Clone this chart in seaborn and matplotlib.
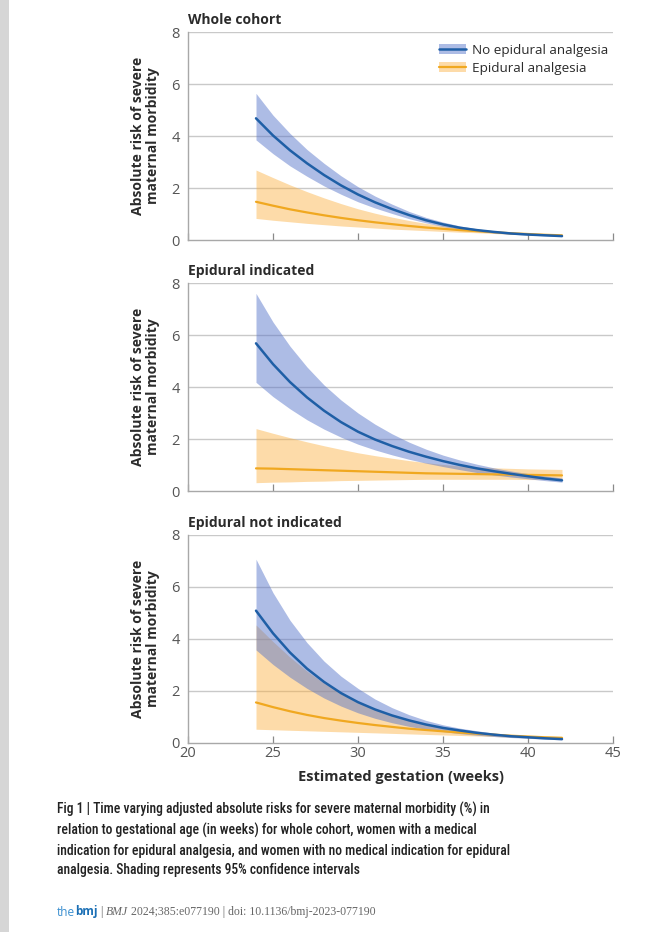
import matplotlib
matplotlib.use("Agg")
import matplotlib.pyplot as plt
import seaborn as sns
from matplotlib.patches import Patch, Rectangle
from matplotlib.lines import Line2D

# gestation weeks on the x axis
weeks = list(range(24, 43))

# Whole cohort
whole_no = [4.68, 4.02, 3.45, 2.95, 2.50, 2.10, 1.75, 1.45, 1.19, 0.96, 0.76, 0.60, 0.47, 0.38, 0.31, 0.25, 0.21, 0.18, 0.15]
whole_no_hi = [5.64, 4.80, 4.10, 3.48, 2.95, 2.47, 2.05, 1.69, 1.38, 1.10, 0.87, 0.69, 0.54, 0.43, 0.35, 0.29, 0.24, 0.20, 0.17]
whole_no_lo = [3.85, 3.32, 2.85, 2.45, 2.08, 1.76, 1.47, 1.23, 1.02, 0.82, 0.66, 0.52, 0.41, 0.33, 0.27, 0.22, 0.19, 0.16, 0.13]
whole_ep = [1.47, 1.32, 1.18, 1.06, 0.95, 0.85, 0.76, 0.68, 0.61, 0.54, 0.48, 0.43, 0.38, 0.34, 0.30, 0.26, 0.23, 0.20, 0.18]
whole_ep_hi = [2.69, 2.40, 2.12, 1.86, 1.62, 1.40, 1.20, 1.03, 0.88, 0.75, 0.64, 0.55, 0.47, 0.40, 0.35, 0.30, 0.26, 0.23, 0.21]
whole_ep_lo = [0.83, 0.76, 0.70, 0.64, 0.59, 0.54, 0.50, 0.46, 0.42, 0.39, 0.36, 0.33, 0.30, 0.28, 0.25, 0.22, 0.20, 0.18, 0.16]

# Epidural indicated
ind_no = [5.68, 4.88, 4.19, 3.60, 3.09, 2.65, 2.28, 1.98, 1.73, 1.51, 1.32, 1.15, 1.00, 0.87, 0.76, 0.66, 0.57, 0.48, 0.41]
ind_no_hi = [7.60, 6.50, 5.57, 4.77, 4.08, 3.50, 3.00, 2.57, 2.20, 1.88, 1.61, 1.38, 1.19, 1.03, 0.89, 0.77, 0.67, 0.58, 0.50]
ind_no_lo = [4.18, 3.63, 3.16, 2.74, 2.38, 2.07, 1.80, 1.58, 1.39, 1.22, 1.07, 0.94, 0.82, 0.71, 0.62, 0.54, 0.47, 0.40, 0.34]
ind_ep = [0.87, 0.86, 0.84, 0.82, 0.80, 0.78, 0.76, 0.74, 0.72, 0.70, 0.68, 0.67, 0.66, 0.65, 0.64, 0.63, 0.62, 0.61, 0.60]
ind_ep_hi = [2.40, 2.22, 2.05, 1.89, 1.74, 1.60, 1.47, 1.36, 1.26, 1.17, 1.09, 1.02, 0.96, 0.92, 0.89, 0.87, 0.85, 0.84, 0.83]
ind_ep_lo = [0.32, 0.34, 0.35, 0.37, 0.38, 0.40, 0.41, 0.42, 0.43, 0.44, 0.45, 0.45, 0.45, 0.45, 0.45, 0.45, 0.44, 0.44, 0.43]

# Epidural not indicated
not_no = [5.09, 4.22, 3.48, 2.86, 2.35, 1.92, 1.57, 1.29, 1.06, 0.87, 0.71, 0.58, 0.48, 0.39, 0.32, 0.26, 0.22, 0.18, 0.15]
not_no_hi = [7.07, 5.78, 4.72, 3.86, 3.15, 2.57, 2.10, 1.69, 1.36, 1.09, 0.87, 0.70, 0.57, 0.47, 0.38, 0.31, 0.26, 0.22, 0.18]
not_no_lo = [3.58, 3.02, 2.53, 2.10, 1.73, 1.42, 1.16, 0.95, 0.78, 0.64, 0.53, 0.44, 0.36, 0.30, 0.25, 0.21, 0.18, 0.15, 0.12]
not_ep = [1.56, 1.38, 1.22, 1.08, 0.96, 0.86, 0.77, 0.69, 0.62, 0.55, 0.50, 0.45, 0.40, 0.36, 0.32, 0.28, 0.25, 0.22, 0.20]
not_ep_hi = [4.54, 3.90, 3.30, 2.76, 2.30, 1.90, 1.56, 1.28, 1.05, 0.86, 0.70, 0.58, 0.48, 0.40, 0.34, 0.29, 0.25, 0.22, 0.20]
not_ep_lo = [0.53, 0.51, 0.49, 0.47, 0.45, 0.43, 0.41, 0.39, 0.37, 0.35, 0.33, 0.31, 0.29, 0.27, 0.25, 0.22, 0.20, 0.18, 0.16]

titles = ["Whole cohort", "Epidural indicated", "Epidural not indicated"]
series_labels = ["No epidural analgesia", "Epidural analgesia"]
x_ticks = [20, 25, 30, 35, 40, 45]
y_ticks = [0, 2, 4, 6, 8]

panels = [
    (whole_no, whole_no_lo, whole_no_hi, whole_ep, whole_ep_lo, whole_ep_hi),
    (ind_no, ind_no_lo, ind_no_hi, ind_ep, ind_ep_lo, ind_ep_hi),
    (not_no, not_no_lo, not_no_hi, not_ep, not_ep_lo, not_ep_hi),
]

sns.set_theme(style="white")
plt.rcParams["font.family"] = ["Open Sans", "DejaVu Sans"]

blue_line = "#1f5fa6"
blue_fill = "#5573c9"
orange_line = "#f0a820"
orange_fill = "#fbb040"
grid_col = "#c9c9c9"
text_col = "#2b2b2b"

fig = plt.figure(figsize=(6.72, 9.32), dpi=100)
fig.patch.set_facecolor("white")

# grey strip at the left edge of the page
fig.patches.append(Rectangle((0, 0), 9 / 672, 1, transform=fig.transFigure,
                             facecolor="#d6d6d6", edgecolor="none"))

W, H = 672, 932
left, right = 188, 613
axes_px = [(32, 240), (283, 491), (535, 743)]

for i, ((no, no_lo, no_hi, ep, ep_lo, ep_hi), (top, bot)) in enumerate(zip(panels, axes_px)):
    ax = fig.add_axes([left / W, 1 - bot / H, (right - left) / W, (bot - top) / H])
    ax.set_xlim(20, 45)
    ax.set_ylim(0, 8)
    ax.set_yticks(y_ticks)
    ax.set_xticks(x_ticks)
    for y in y_ticks[1:]:
        ax.axhline(y, color=grid_col, lw=1.0, zorder=0)

    ax.fill_between(weeks, ep_lo, ep_hi, color=orange_fill, alpha=0.45, lw=0, zorder=1)
    ax.fill_between(weeks, no_lo, no_hi, color=blue_fill, alpha=0.48, lw=0, zorder=2)
    sns.lineplot(x=weeks, y=ep, ax=ax, color=orange_line, lw=1.6, zorder=3)
    sns.lineplot(x=weeks, y=no, ax=ax, color=blue_line, lw=1.8, zorder=4)

    for s in ["top", "right"]:
        ax.spines[s].set_visible(False)
    for s in ["left", "bottom"]:
        ax.spines[s].set_color("#a8a8a8")
        ax.spines[s].set_linewidth(1.0)

    ax.tick_params(axis="x", direction="in", length=5, width=0.9, color="#8a8a8a",
                   bottom=True, labelsize=10.5, labelcolor="#555555", pad=2)
    ax.tick_params(axis="y", length=0, labelsize=10.5, labelcolor="#555555", pad=6)
    if i < 2:
        ax.set_xticklabels([])
        ax.set_xlabel("")
    else:
        ax.set_xlabel("Estimated gestation (weeks)", fontsize=10.5, fontweight="bold",
                      color=text_col, labelpad=7)
    ax.set_ylabel("Absolute risk of severe\nmaternal morbidity", fontsize=10,
                  fontweight="bold", color=text_col, labelpad=8, linespacing=1.15)
    ax.set_title(titles[i], loc="left", fontsize=10, fontweight="bold",
                 color=text_col, pad=6)

    if i == 0:
        handles = [
            (Patch(facecolor=blue_fill, alpha=0.48, edgecolor="none"),
             Line2D([], [], color=blue_line, lw=1.8)),
            (Patch(facecolor=orange_fill, alpha=0.45, edgecolor="none"),
             Line2D([], [], color=orange_line, lw=1.6)),
        ]
        ax.legend(handles, series_labels, loc="upper right", frameon=False,
                  fontsize=9.7, handlelength=2.0, handleheight=0.75, labelspacing=0.4,
                  handletextpad=0.5, borderaxespad=0.3, bbox_to_anchor=(1.012, 0.99),
                  labelcolor=text_col)

caption = ("Fig 1 | Time varying adjusted absolute risks for severe maternal morbidity (%) in\n"
           "relation to gestational age (in weeks) for whole cohort, women with a medical\n"
           "indication for epidural analgesia, and women with no medical indication for epidural\n"
           "analgesia. Shading represents 95% confidence intervals")
fig.text(57 / W, 1 - 802 / H, caption, ha="left", va="top", fontsize=9.8,
         family=["Roboto Condensed", "Liberation Sans Narrow", "Roboto"],
         fontweight="medium", color="#222222", linespacing=1.5)

footer_font = ["Liberation Serif", "DejaVu Serif"]
t1 = fig.text(57 / W, 1 - 912 / H, "the", ha="left", va="center", fontsize=8.5,
              color="#3a8fd0", family=["Open Sans", "DejaVu Sans"])
t2 = plt.annotate("bmj", xy=(1, 0.5), xycoords=t1, va="center", ha="left",
                  fontsize=8.5, fontweight="bold", color="#1a6fb5",
                  family=["Open Sans", "DejaVu Sans"])
t3 = plt.annotate(" | ", xy=(1, 0.5), xycoords=t2, va="center", ha="left",
                  fontsize=8.5, color="#666666", family=footer_font)
t4 = plt.annotate("BMJ", xy=(1, 0.5), xycoords=t3, va="center", ha="left",
                  fontsize=8.5, color="#666666", style="italic", family=footer_font)
t5 = plt.annotate(" 2024;385:e077190 | doi: 10.1136/bmj-2023-077190", xy=(1, 0.5),
                  xycoords=t4, va="center", ha="left", fontsize=8.5, color="#666666",
                  family=footer_font)

fig.savefig("out.png", dpi=100, facecolor="white")
